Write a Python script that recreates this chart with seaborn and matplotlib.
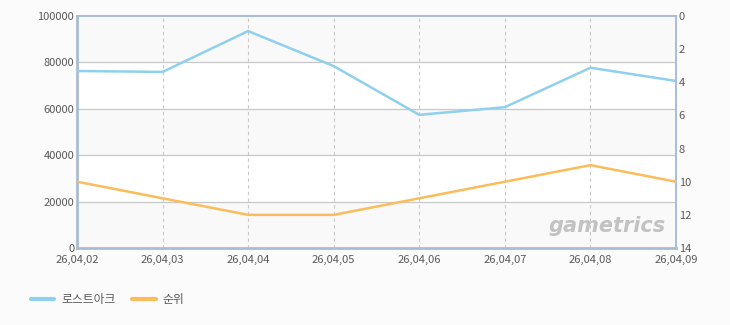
import matplotlib
matplotlib.use("Agg")
import matplotlib.pyplot as plt
import seaborn as sns
import pandas as pd
import numpy as np

dates = ["26,04,02", "26,04,03", "26,04,04", "26,04,05", "26,04,06", "26,04,07", "26,04,08", "26,04,09"]
users = [76300, 75900, 93500, 78400, 57400, 60700, 77700, 72000]
rank = [10, 11, 12, 12, 11, 10, 9, 10]
series_names = ["로스트아크", "순위"]
left_ticks = [0, 20000, 40000, 60000, 80000, 100000]
right_ticks = [0, 2, 4, 6, 8, 10, 12, 14]

sns.set_style("white")
plt.rcParams["font.family"] = ["Noto Sans CJK KR", "DejaVu Sans"]

blue = "#8fd0ef"
orange = "#fbbd5b"
spine_c = "#a9bdd2"
txt_c = "#5a5a5a"

fig = plt.figure(figsize=(7.3, 3.25), dpi=100)
fig.patch.set_facecolor("#fbfbfb")
ax = fig.add_axes([77/730, 77/325, (676-77)/730, (248-16)/325])
ax.set_facecolor("white")

# alternating bands
for i in range(len(left_ticks) - 1):
    if i % 2 == 0:
        ax.axhspan(left_ticks[i], left_ticks[i+1], color="#f9f9f9", zorder=0, lw=0)

df = pd.DataFrame({"idx": np.arange(len(dates)), "users": users, "rank": rank})

sns.lineplot(data=df, x="idx", y="users", ax=ax, color=blue, lw=1.8, zorder=3)
ax.set_ylim(0, 100000)
ax.set_xlim(0, len(dates) - 1)
ax.set_yticks(left_ticks)
ax.set_yticklabels([str(v) for v in left_ticks])
ax.set_xticks(df["idx"])
ax.set_xticklabels(dates)
ax.set_xlabel("")
ax.set_ylabel("")
for y in left_ticks[1:-1]:
    ax.axhline(y, color="#c8c8c8", lw=0.9, zorder=1)
for x in df["idx"][1:-1]:
    ax.axvline(x, color="#c8c8c8", lw=0.8, ls=(0, (3, 3)), zorder=1)

ax2 = ax.twinx()
sns.lineplot(data=df, x="idx", y="rank", ax=ax2, color=orange, lw=1.8, zorder=3)
ax2.set_ylim(14, 0)
ax2.set_yticks(right_ticks)
ax2.set_yticklabels([str(v) for v in right_ticks])
ax2.set_ylabel("")
ax2.set_xlim(0, len(dates) - 1)

for a in (ax, ax2):
    a.tick_params(axis="both", length=0, labelsize=8, colors=txt_c, pad=2)
    for s in a.spines.values():
        s.set_color(spine_c)
        s.set_linewidth(1.2)
ax.spines["left"].set_linewidth(2)
ax.spines["bottom"].set_linewidth(2)
ax2.spines["left"].set_visible(False)
ax2.spines["bottom"].set_visible(False)
ax.tick_params(axis="x", pad=5)

# watermark
ax.text(0.982, 0.05, "gametrics", transform=ax.transAxes, ha="right", va="bottom",
        fontsize=15, fontweight="bold", style="italic", color="#c2c2c2",
        family=["DejaVu Sans"], zorder=2)

# legend
from matplotlib.lines import Line2D
handles = [Line2D([0], [0], color=blue, lw=3), Line2D([0], [0], color=orange, lw=3)]
fig.legend(handles, series_names, loc="center left", bbox_to_anchor=(20/730, 1 - 300/325),
           ncol=2, frameon=False, fontsize=8.5, handlelength=2.0, handletextpad=0.6,
           columnspacing=1.4, labelcolor=txt_c)

fig.savefig("out.png", dpi=100, facecolor=fig.get_facecolor())
